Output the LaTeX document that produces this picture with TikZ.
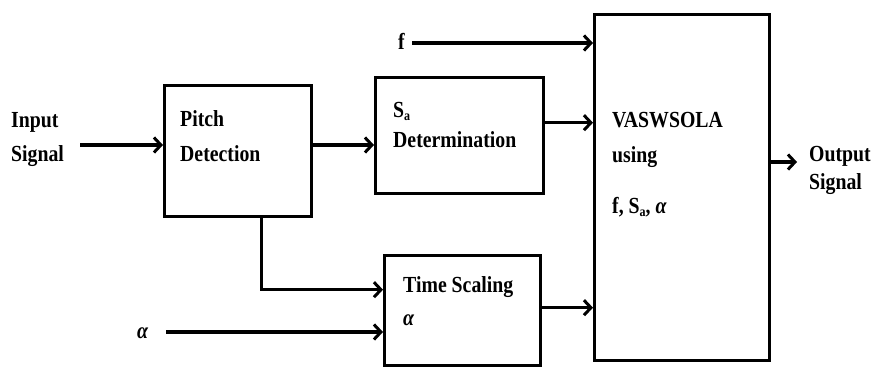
\documentclass[tikz,border=0pt]{standalone}
\usepackage{fontspec}
\setmainfont{Liberation Serif}
\newfontfamily\lblfont[FakeStretch=0.86]{Liberation Serif}
\usetikzlibrary{arrows.meta}
\newcommand{\subA}{\raisebox{-3.5pt}{\fontsize{14}{14}\selectfont a}}
\begin{document}
\begin{tikzpicture}[x=1pt,y=-1pt,
 box/.style={draw, line width=3.4pt, inner sep=0pt, anchor=north west},
 lbl/.style={anchor=base west, inner sep=0pt, font=\lblfont\bfseries\fontsize{23}{26}\selectfont},
 arr/.style={line width=3.2pt, -{Straight Barb[length=7pt,width=15pt,line width=3pt]}}]
\useasboundingbox (0,0) rectangle (877,367);
% boxes
\node[box, minimum width=147pt, minimum height=131pt] (pd) at (163,84) {};
\node[box, minimum width=168pt, minimum height=116pt] (sa) at (374,76) {};
\node[box, minimum width=156pt, minimum height=110pt] (ts) at (383,254) {};
\node[box, minimum width=175pt, minimum height=346pt] (vs) at (593,13) {};
% labels
\node[lbl] (in1) at (11,127) {Input};
\node[lbl] (in2) at (11,161) {Signal};
\node[lbl] (pd1) at (180,126) {Pitch};
\node[lbl] (pd2) at (180,161) {Detection};
\node[lbl] (sa1) at (393,117) {S\subA};
\node[lbl] (sa2) at (393,147) {Determination};
\node[lbl] (ts1) at (403,292) {Time Scaling};
\node[lbl] (ts2) at (403,325) {\itshape α};
\node[lbl] (al) at (137,338) {\itshape α};
\node[lbl] (fl) at (398,49) {f};
\node[lbl] (vs1) at (612,127) {VASWSOLA};
\node[lbl] (vs2) at (612,162) {using};
\node[lbl] (vs3) at (612,213) {f, S\subA, {\itshape α}};
\node[lbl] (o1) at (809,161) {Output};
\node[lbl] (o2) at (809,189) {Signal};
% connectors
\coordinate (inp) at (80,145);
\coordinate (fin) at (412,43);
\coordinate (ain) at (166,332);
\coordinate (out) at (797,162);
\draw[arr] (inp) -- (inp -| pd.west);
\draw[arr] (pd.east |- inp) -- (sa.west |- inp);
\draw[arr] ([yshift=13pt]sa.east) -- ([yshift=13pt]sa.east -| vs.west);
\draw[arr] (fin) -- (fin -| vs.west);
\draw[arr] ([xshift=23.5pt]pd.south) |- ([yshift=21pt]ts.west);
\draw[arr] (ain) -- (ain -| ts.west);
\draw[arr] ([yshift=3pt]ts.east) -- ([yshift=3pt]ts.east -| vs.west);
\draw[arr] (vs.east |- out) -- (out);
\end{tikzpicture}
\end{document}
